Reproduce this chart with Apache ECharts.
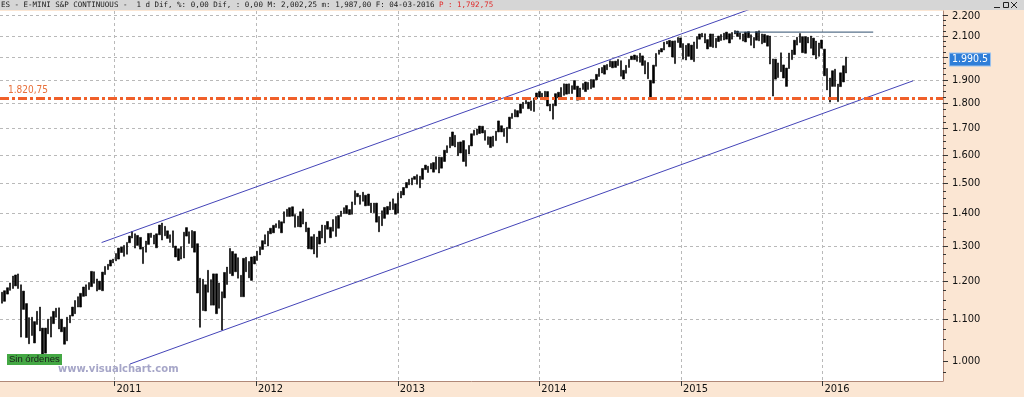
<!DOCTYPE html>
<html><head><meta charset="utf-8">
<script src="https://cdn.jsdelivr.net/npm/echarts@6/dist/echarts.min.js"></script>
<style>html,body{margin:0;padding:0;background:#FBE6D3;}#c{width:1024px;height:397px;}</style>
</head><body><div id="c"></div>
<script>
// ---- data (weekly high / low, week ending Friday) ----
const firstWeekEnd = '2010-03-19';
const high2010 = [1170,1174,1182,1195,1214,1217,1220,1190,1173,1140,1104,1105,1094,1120,1131,1078,1078,1100,1106,1120,1128,1129,1100,1080,1105,1110,1131,1148,1158,1167,1184,1190,1196,1227,1226,1206,1200,1225,1241,1247,1259,1262];
const low2010  = [1141,1146,1165,1175,1180,1187,1180,1056,1125,1055,1040,1060,1042,1087,1071,1004,1018,1064,1056,1089,1105,1076,1069,1039,1047,1091,1108,1114,1131,1131,1159,1160,1177,1185,1194,1173,1177,1174,1218,1232,1242,1251];
const high2011 = [1278,1294,1297,1302,1311,1330,1344,1337,1332,1326,1297,1315,1338,1339,1333,1337,1364,1370,1360,1346,1334,1346,1300,1292,1298,1342,1356,1343,1347,1344,1307,1208,1205,1190,1230,1204,1220,1220,1195,1171,1224,1239,1293,1284,1277,1266,1216,1264,1267,1255,1268,1270];
const low2011  = [1257,1262,1281,1270,1276,1310,1324,1294,1302,1291,1249,1282,1305,1326,1306,1295,1334,1318,1331,1323,1311,1296,1268,1258,1262,1265,1330,1308,1295,1282,1168,1080,1122,1121,1170,1136,1136,1114,1128,1073,1155,1191,1221,1215,1226,1208,1158,1158,1226,1209,1202,1248];
const high2012 = [1285,1297,1316,1334,1345,1354,1363,1368,1378,1374,1406,1414,1419,1422,1397,1392,1406,1415,1373,1355,1328,1335,1327,1345,1364,1363,1375,1357,1381,1391,1394,1408,1419,1426,1413,1438,1475,1466,1460,1470,1460,1464,1434,1434,1434,1391,1409,1420,1423,1438,1448,1432];
const low2012  = [1258,1274,1290,1306,1300,1337,1340,1356,1354,1340,1370,1391,1391,1392,1357,1359,1358,1367,1343,1292,1291,1277,1267,1306,1324,1310,1351,1325,1345,1329,1354,1391,1400,1400,1397,1398,1429,1455,1430,1440,1425,1426,1403,1403,1373,1343,1362,1385,1398,1412,1413,1398];
const high2013 = [1467,1473,1486,1503,1514,1519,1524,1530,1525,1552,1564,1560,1570,1573,1594,1593,1592,1618,1635,1667,1687,1674,1648,1649,1654,1620,1636,1680,1694,1698,1710,1709,1693,1669,1668,1671,1690,1730,1711,1700,1705,1745,1760,1775,1771,1798,1805,1813,1806,1811,1823,1844];
const low2013  = [1402,1451,1461,1485,1495,1495,1514,1497,1485,1514,1548,1538,1550,1539,1549,1536,1553,1577,1609,1627,1635,1630,1598,1608,1577,1560,1604,1634,1674,1676,1681,1683,1655,1639,1628,1633,1654,1687,1687,1670,1646,1700,1740,1746,1746,1761,1780,1799,1779,1772,1768,1819];
const high2014 = [1850,1843,1851,1850,1798,1798,1841,1847,1867,1883,1882,1883,1875,1897,1873,1865,1884,1891,1889,1902,1901,1924,1950,1955,1964,1968,1985,1982,1983,1991,1985,1942,1964,1991,2006,2011,2008,2019,2007,1985,1977,1898,1965,2018,2034,2041,2071,2075,2079,2076,2077,2093];
const low2014  = [1827,1823,1815,1790,1770,1737,1791,1823,1825,1834,1839,1841,1842,1859,1814,1816,1859,1850,1859,1862,1868,1900,1915,1930,1925,1944,1958,1953,1955,1963,1916,1904,1929,1955,1990,1990,1982,1978,1964,1926,1905,1821,1886,1960,2014,2025,2034,2062,2049,2002,1972,2069];
const high2015 = [2091,2064,2056,2064,2057,2072,2097,2110,2113,2111,2083,2110,2110,2089,2100,2107,2114,2119,2111,2117,2126,2124,2115,2110,2119,2121,2106,2093,2121,2125,2110,2108,2102,2100,1993,1992,1975,2021,1966,1952,2020,2034,2080,2094,2112,2097,2097,2094,2100,2090,2076,2067];
const low2015  = [2046,1992,1988,2005,1990,1981,2041,2085,2095,2067,2039,2050,2046,2045,2074,2079,2081,2085,2067,2085,2110,2098,2085,2076,2072,2092,2056,2044,2080,2077,2063,2069,2052,1970,1831,1903,1910,1936,1908,1872,1950,1990,2013,2057,2069,2022,2019,2067,2042,2011,1993,2005];
const high2016 = [2081,2038,1950,1908,1940,1947,1882,1931,1962,2002];
const low2016  = [2042,1918,1857,1806,1872,1872,1808,1871,1891,1930];

const yearTicks = ['2011-01-01','2012-01-01','2013-01-01','2014-01-01','2015-01-01','2016-01-01'];
const priceLabels = [1000,1100,1200,1300,1400,1500,1600,1700,1800,1900,2100,2200];
const priceTicks = [1000,1100,1200,1300,1400,1500,1600,1700,1800,1900,2000,2100,2200];
const gridLevels = [1100,1200,1300,1400,1500,1600,1700,1800,1900,2000,2100,2200];

const trendUpper = [['2010-11-29',1310.5],['2015-07-24',2251]];
const trendLower = [['2011-02-10',993],['2016-08-22',1896]];
const resistance = [['2015-05-18',2119],['2016-05-11',2119]];
const supportLevel = 1820.75;
const supportText = '1.820,75';
const lastPrice = 1990.5;
const lastText = '1.990.5';
const headerMain = 'ES - E-MINI S&P CONTINUOUS -  1 d Dif, %: 0,00 Dif, : 0,00 M: 2,002,25 m: 1,987,00 F: 04-03-2016 ';
const headerRed = 'P : 1,792,75';

// ---- build ----
const DAY = 86400000;
const utc = s => { const p = s.split('-').map(Number); return Date.UTC(p[0], p[1]-1, p[2]); };
const highs = [].concat(high2010, high2011, high2012, high2013, high2014, high2015, high2016);
const lows  = [].concat(low2010, low2011, low2012, low2013, low2014, low2015, low2016);
const t0 = utc(firstWeekEnd);
const bars = highs.map((h, i) => [t0 + (i*7 - 2)*DAY, lows[i], h, lows[i], h]);
const yearTimes = yearTicks.map(utc);
const minorTicks = [];
for (let v = 975; v <= 2200; v += 25) if (v % 100 !== 0) minorTicks.push(v);

const yMin = 955.3, yMax = 2223.6;
const FONT = '"Liberation Sans Narrow","DejaVu Sans Condensed","Liberation Sans",sans-serif';
const gridLine = { show: true, lineStyle: { color: '#B9B9B9', type: [3, 3], width: 1 } };
const toLine = arr => arr.map(p => [utc(p[0]), p[1]]);

const chart = echarts.init(document.getElementById('c'), null, { renderer: 'canvas' });
chart.setOption({
  animation: false,
  backgroundColor: '#FBE6D3',
  grid: { left: 0, right: 81, top: 11, bottom: 16, show: true, backgroundColor: '#FFFFFF', borderWidth: 0, containLabel: false, outerBoundsMode: 'none' },
  xAxis: {
    type: 'value', min: utc('2010-03-12'), max: utc('2016-11-07'), scale: true,
    axisLine: { show: true, onZero: false, lineStyle: { color: '#B08878', width: 1 } },
    axisTick: { show: true, customValues: yearTimes, length: 5, lineStyle: { color: '#333' } },
    axisLabel: { customValues: yearTimes, formatter: v => String(new Date(v).getUTCFullYear()), align: 'left', margin: 3, padding: [0,0,0,2], color: '#111', fontSize: 11, fontFamily: FONT },
    splitLine: gridLine
  },
  yAxis: [
    { type: 'log', logBase: 10, position: 'right', min: yMin, max: yMax,
      axisLine: { show: true, onZero: false, lineStyle: { color: '#B08878', width: 1 } },
      axisTick: { show: true, customValues: priceTicks, length: 5, lineStyle: { color: '#333' } },
      axisLabel: { customValues: priceLabels, formatter: v => (v/1000).toFixed(3), margin: 9, color: '#111', fontSize: 11, fontFamily: FONT },
      splitLine: { show: false } },
    { type: 'log', logBase: 10, position: 'right', min: yMin, max: yMax,
      axisLine: { show: false },
      axisTick: { show: true, customValues: minorTicks, length: 3, lineStyle: { color: '#333' } },
      axisLabel: { show: false }, splitLine: { show: false } },
    { type: 'log', logBase: 10, position: 'right', min: yMin, max: yMax,
      axisLine: { show: false },
      axisTick: { show: false, customValues: gridLevels },
      axisLabel: { show: false }, splitLine: gridLine }
  ],
  series: [
    { type: 'candlestick', data: bars, encode: { x: 0, y: [1, 2, 3, 4] }, barWidth: 2, silent: true,
      itemStyle: { color: '#000', color0: '#000', borderColor: '#000', borderColor0: '#000', borderWidth: 0.6 },
      markLine: { symbol: ['none', 'none'], silent: true, animation: false,
        data: [
          { yAxis: supportLevel, lineStyle: { color: '#F0602A', width: 3, type: [9, 3, 3, 3] },
            label: { show: true, position: 'insideStartTop', formatter: supportText, color: '#E8703A', fontSize: 10, fontFamily: FONT, distance: [8, 3] } },
          { yAxis: lastPrice, lineStyle: { color: 'rgba(0,0,0,0)', width: 0 },
            label: { show: true, position: 'end', formatter: lastText, color: '#FFFFFF', backgroundColor: '#2F7ED8', borderColor: '#9DC3EE', borderWidth: 1, padding: [1, 2, 0, 2], fontSize: 10.5, fontFamily: FONT, distance: 7 } }
        ] } },
    { type: 'line', data: toLine(trendUpper), showSymbol: false, silent: true, lineStyle: { color: '#4444B8', width: 1 } },
    { type: 'line', data: toLine(trendLower), showSymbol: false, silent: true, lineStyle: { color: '#4444B8', width: 1 } },
    { type: 'line', data: toLine(resistance), showSymbol: false, silent: true, lineStyle: { color: '#2E4E6E', width: 1 } }
  ],
  graphic: [
    { type: 'rect', x: 0, y: 0, z: 100, shape: { width: 1024, height: 10 }, style: { fill: '#D6D6D6' } },
    { type: 'text', x: 1, y: 5.5, z: 101, style: { text: '{a|' + headerMain + '}{b|' + headerRed + '}', verticalAlign: 'middle',
        rich: { a: { fill: '#1A1A1A', font: '7.5px "DejaVu Sans Mono"' }, b: { fill: '#E02828', font: '7.5px "DejaVu Sans Mono"' } } } },
    { type: 'line', z: 101, shape: { x1: 994, y1: 7.5, x2: 1000, y2: 7.5 }, style: { stroke: '#222', lineWidth: 1 } },
    { type: 'rect', z: 101, shape: { x: 1003.5, y: 2.5, width: 5, height: 5 }, style: { fill: 'none', stroke: '#222', lineWidth: 1 } },
    { type: 'line', z: 101, shape: { x1: 1011, y1: 2, x2: 1017, y2: 8 }, style: { stroke: '#222', lineWidth: 1 } },
    { type: 'line', z: 101, shape: { x1: 1017, y1: 2, x2: 1011, y2: 8 }, style: { stroke: '#222', lineWidth: 1 } },
    { type: 'rect', z: 100, shape: { x: 7, y: 354, width: 55, height: 11 }, style: { fill: '#44A844' } },
    { type: 'text', x: 9, y: 359.5, z: 101, style: { text: 'Sin órdenes', fill: '#1A1A1A', font: '9.5px "Liberation Sans"', verticalAlign: 'middle' } },
    { type: 'text', x: 58, y: 369.5, z: 101, style: { text: 'www.visualchart.com', fill: '#A6A6C8', font: 'bold 10px "DejaVu Sans"', verticalAlign: 'middle' } }
  ]
});
</script>
</body></html>
